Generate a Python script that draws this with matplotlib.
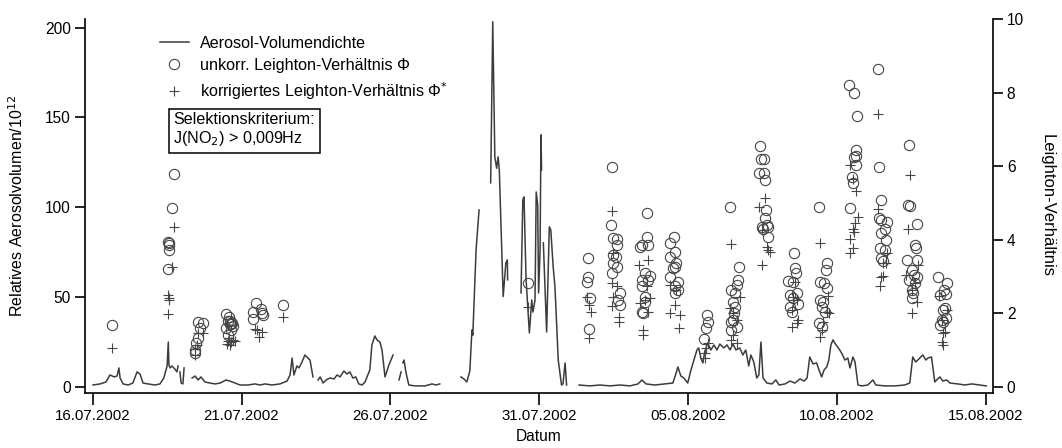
import datetime as dt

import matplotlib
matplotlib.use("Agg")
import matplotlib.dates as mdates
import matplotlib.pyplot as plt
import numpy as np
from matplotlib.lines import Line2D

nan = np.nan
start = dt.datetime(2002, 7, 16)

# Aerosol-Volumendichte (Tage seit 16.07.2002, rel. Volumen / 1e12); nan = Messlücke
aero_days = [
    0.01, 0.25, 0.45, 0.58, 0.72, 0.82, 0.88, 0.92, 1.02, 1.19,
    1.35, 1.49, 1.59, 1.69, 1.86, 2.09, 2.26, 2.39, 2.50, 2.54,
    2.56, 2.60, 2.66, 2.76, 2.83, 2.87, 2.90, 2.93, 2.97, 3.03,
    3.07, 3.20, 3.34, 3.44, 3.54, 3.64, 3.77, 3.94, 4.11, 4.28,
    4.48, 4.61, 4.78, 4.95, 5.22, 5.45, 5.62, 5.79, 6.02, 6.29,
    6.53, 6.63, 6.70, 6.76, 6.86, 6.93, 7.03, 7.13, 7.23, 7.30,
    7.40, 7.48, 7.57, 7.64, 7.74, 7.84, 7.97, 8.11, 8.21, 8.31,
    8.44, 8.54, 8.64, 8.74, 8.84, 8.94, 9.05, 9.15, 9.31, 9.38,
    9.48, 9.55, 9.65, 9.72, 9.82, 9.95, 10.09, 10.20, 10.29, 10.36,
    10.39, 10.42, 10.46, 10.52, 10.62, 10.83, 11.16, 11.40, 11.53, 11.66,
    12.00, 12.37, 12.47, 12.57, 12.67, 12.74, 12.77, 12.88, 12.98, 13.20,
    13.37, 13.44, 13.51, 13.57, 13.62, 13.66, 13.79, 13.88, 13.93, 13.94,
    14.15, 14.39, 14.45, 14.49, 14.56, 14.67, 14.75, 14.79, 14.86, 14.90,
    14.95, 14.98, 15.03, 15.06, 15.08, 15.11, 15.14, 15.25, 15.34, 15.39,
    15.47, 15.53, 15.64, 15.75, 15.80, 15.87, 15.92, 16.10, 16.34, 16.70,
    17.04, 17.38, 17.71, 18.05, 18.32, 18.45, 18.59, 18.89, 19.22, 19.49,
    19.59, 19.66, 19.76, 19.86, 19.99, 20.10, 20.20, 20.30, 20.36, 20.43,
    20.50, 20.56, 20.66, 20.77, 20.87, 20.97, 21.07, 21.20, 21.31, 21.41,
    21.51, 21.61, 21.74, 21.84, 21.94, 22.04, 22.11, 22.21, 22.31, 22.38,
    22.45, 22.52, 22.65, 22.82, 22.95, 23.06, 23.26, 23.43, 23.59, 23.76,
    23.90, 24.00, 24.09, 24.20, 24.32, 24.40, 24.49, 24.57, 24.66, 24.73,
    24.80, 24.87, 24.97, 25.03, 25.16, 25.27, 25.37, 25.44, 25.54, 25.61,
    25.71, 25.84, 26.04, 26.21, 26.31, 26.61, 26.95, 27.28, 27.45, 27.55,
    27.65, 27.72, 27.82, 27.89, 27.99, 28.06, 28.18, 28.29, 28.39, 28.46,
    28.56, 28.69, 28.80, 29.07, 29.30, 29.53, 29.80, 30.02,
]
aero_vol = [
    1.1, 1.7, 2.8, 6.7, 5.6, 6.1, 10.6, 5.0, 1.7, 1.1,
    2.2, 8.4, 7.2, 2.2, 1.7, 1.1, 1.7, 5.0, 11.7, 25.0,
    12.2, 10.6, 11.7, 10.0, 8.4, 11.7, nan, 8.4, 2.2, 1.7,
    10.6, nan, 5.0, 6.1, 3.9, 5.6, 2.8, 2.2, 1.7, 2.2,
    3.9, 3.3, 2.2, 1.1, 1.1, 1.7, 1.1, 1.7, 1.1, 1.7,
    3.3, 6.7, 16.1, 6.7, 11.7, 10.6, 13.9, 17.8, 16.1, 15.0,
    5.6, nan, 3.9, 5.6, 2.2, 3.9, 5.0, 4.5, 6.7, 5.6,
    8.9, 7.2, 8.4, 5.0, 5.6, 1.7, 1.1, 2.8, 9.5, 23.4,
    28.4, 26.2, 25.0, 20.6, 5.6, 12.2, 17.8, nan, 3.9, 8.4,
    nan, 13.4, 15.0, 8.4, 1.1, 0.6, 0.6, 1.7, 1.1, 1.7,
    nan, 5.6, 4.5, 2.8, 8.9, 31.7, 28.9, 76.3, 98.5, nan,
    113.6, 203.2, 128.0, 121.7, 128.0, 120.8, 50.3, 69.0, 70.7, 59.6,
    nan, 52.3, 104.1, 105.8, 59.6, 30.1, 48.4, 41.7, 48.4, 108.5,
    101.3, 52.3, 76.3, 140.3, 120.8, nan, 80.2, 30.6, 89.1, 87.4,
    66.8, 55.7, 15.0, 1.1, 1.7, 13.4, 1.1, nan, 1.1, 0.6,
    1.1, 0.6, 1.1, 0.6, 1.7, 3.9, 1.7, 1.1, 1.7, 2.2,
    7.2, 11.1, 6.1, 5.0, 2.2, 9.5, 15.0, 20.6, 21.7, 16.1,
    13.4, 19.5, 24.5, 20.6, 23.4, 20.6, 23.9, 21.7, 23.4, 20.6,
    23.9, 20.6, 21.7, 17.8, 20.6, 11.7, 17.8, 13.9, 5.0, 6.7,
    25.0, 5.0, 2.2, 1.7, 3.9, 1.1, 1.7, 3.3, 2.2, 4.5,
    3.3, 5.0, 16.7, 12.8, 13.4, 9.5, 5.6, 9.5, 11.1, 15.0,
    23.4, 26.2, 23.4, 22.3, 18.9, 15.0, 16.1, 10.6, 16.7, 13.9,
    1.1, 0.6, 1.1, 3.9, 1.1, 0.6, 0.6, 1.1, 2.2, 16.7,
    13.9, 15.0, 16.7, 17.8, 15.0, 16.1, 16.7, 2.8, 4.5, 5.6,
    3.3, 3.9, 2.2, 1.7, 1.1, 1.7, 1.1, 0.6,
]

# unkorrigiertes Leighton-Verhältnis Phi
phi_days = [
    0.64,
    2.74, 2.65, 2.54, 2.55, 2.56, 2.57, 2.52,
    3.55, 3.70, 3.60, 3.55, 3.46, 3.44, 3.44,
    4.48, 4.58, 4.55, 4.68, 4.61, 4.71, 4.48, 4.65, 4.55, 4.62, 4.66,
    5.48, 5.40, 5.65, 5.68, 5.73, 5.40,
    6.40,
    14.63,
    16.63, 16.65, 16.61, 16.71, 16.68,
    17.43, 17.40, 17.47, 17.60, 17.60, 17.48, 17.58, 17.48, 17.60, 17.43, 17.71, 17.66, 17.71,
    18.63, 18.63, 18.38, 18.44, 18.66, 18.55, 18.72, 18.66, 18.44, 18.47, 18.55, 18.55, 18.44, 18.50,
    19.53, 19.39, 19.56, 19.39, 19.59, 19.56, 19.50, 19.39, 19.67, 19.56, 19.67, 19.56,
    20.64, 20.68, 20.62, 20.53,
    21.41, 21.71, 21.69, 21.63, 21.43, 21.58, 21.52, 21.58, 21.54, 21.50, 21.43, 21.63, 21.46,
    22.42, 22.45, 22.55, 22.39, 22.55, 22.58, 22.62, 22.58, 22.64, 22.47, 22.69, 22.53, 22.69,
    23.57, 23.59, 23.62, 23.37, 23.53, 23.65, 23.43, 23.53, 23.70, 23.43, 23.48,
    24.41, 24.66, 24.63, 24.43, 24.56, 24.66, 24.45, 24.54, 24.49, 24.60, 24.41, 24.49,
    25.41, 25.57, 25.68, 25.66, 25.64, 25.57, 25.64, 25.50, 25.53, 25.44,
    26.39, 26.41, 26.50, 26.42, 26.50, 26.69, 26.61, 26.50, 26.65, 26.45, 26.61, 26.47, 26.54,
    27.43, 27.40, 27.45, 27.70, 27.62, 27.66, 27.68, 27.36, 27.51, 27.59, 27.68, 27.43, 27.62, 27.51, 27.56, 27.51,
    28.40, 28.69, 28.60, 28.46, 28.66, 28.63, 28.57, 28.66, 28.52, 28.57, 28.46,
]
phi_vals = [
    1.68,
    5.79, 4.86, 3.95, 3.86, 3.72, 3.90, 3.20,
    1.77, 1.75, 1.60, 1.33, 1.19, 1.00, 0.93,
    1.98, 1.91, 1.80, 1.75, 1.70, 1.65, 1.60, 1.55, 1.41, 1.78, 1.72,
    2.29, 2.05, 2.11, 2.00, 1.96, 1.84,
    2.23,
    2.82,
    3.50, 3.00, 2.86, 2.43, 1.57,
    5.97, 4.40, 4.04, 4.01, 3.86, 3.59, 3.54, 3.36, 3.27, 3.09, 2.55, 2.36, 2.23,
    4.74, 4.07, 3.81, 3.86, 3.86, 3.09, 3.02, 2.91, 2.91, 2.73, 2.45, 2.32, 2.05, 2.00,
    4.08, 3.90, 3.68, 3.54, 3.36, 3.27, 3.22, 3.00, 2.86, 2.73, 2.64, 2.55,
    1.96, 1.77, 1.60, 1.30,
    4.88, 3.25, 2.91, 2.77, 2.64, 2.55, 2.32, 2.18, 2.00, 1.82, 1.77, 1.64, 1.55,
    6.55, 6.19, 6.19, 5.82, 5.81, 5.63, 4.81, 4.58, 4.40, 4.36, 4.34, 4.29, 4.07,
    3.63, 3.22, 3.09, 2.89, 2.86, 2.55, 2.50, 2.41, 2.26, 2.18, 2.05,
    4.90, 3.36, 3.18, 2.86, 2.82, 2.68, 2.36, 2.32, 2.18, 2.05, 1.73, 1.64,
    8.20, 8.00, 7.35, 6.44, 6.28, 6.26, 6.03, 5.71, 5.54, 4.86,
    8.63, 5.97, 5.08, 4.58, 4.54, 4.49, 4.29, 4.18, 3.99, 3.77, 3.72, 3.50, 3.43,
    6.58, 4.95, 4.92, 4.43, 3.86, 3.77, 3.45, 3.45, 3.18, 3.04, 2.98, 2.91, 2.82, 2.64, 2.55, 2.41,
    2.98, 2.82, 2.64, 2.50, 2.53, 2.14, 2.09, 1.87, 1.82, 1.77, 1.68,
]

# korrigiertes Leighton-Verhältnis Phi*
phi_star_days = [
    0.64,
    2.74, 2.66, 2.54, 2.55, 2.56, 2.52,
    3.55, 3.72, 3.49, 3.44, 3.44,
    4.58, 4.71, 4.65, 4.51, 4.78, 4.61, 4.55,
    5.45, 5.68, 5.59, 5.51,
    6.40,
    14.63,
    16.59, 16.68, 16.73, 16.68,
    17.43, 17.48, 17.44, 17.61, 17.48, 17.44, 17.69, 17.69,
    18.66, 18.36, 18.63, 18.55, 18.72, 18.38, 18.66, 18.50, 18.50,
    19.39, 19.59, 19.56, 19.39, 19.73, 19.70,
    20.68, 20.62, 20.56, 20.56,
    21.43, 21.74, 21.41, 21.51, 21.65, 21.51, 21.46, 21.65,
    22.58, 22.39, 22.47, 22.64, 22.69, 22.75, 22.47,
    23.59, 23.53, 23.65, 23.48, 23.70, 23.65, 23.48,
    24.43, 24.71, 24.66, 24.74, 24.54, 24.49, 24.43,
    25.44, 25.55, 25.66, 25.72, 25.61, 25.55, 25.57, 25.44, 25.53, 25.44,
    26.37, 26.39, 26.69, 26.65, 26.50, 26.56, 26.45, 26.55,
    27.45, 27.40, 27.73, 27.34, 27.62, 27.51, 27.68, 27.54,
    28.44, 28.69, 28.52, 28.63, 28.57, 28.52, 28.57,
]
phi_star_vals = [
    1.06,
    4.35, 3.25, 2.50, 2.41, 2.36, 1.98,
    1.48, 1.48, 1.14, 0.87, 1.02,
    1.33, 1.28, 1.22, 1.18, 1.25, 1.14, 1.25,
    1.57, 1.50, 1.37, 1.55,
    1.91,
    2.18,
    2.45, 2.23, 2.05, 1.32,
    4.79, 3.63, 2.82, 2.73, 2.45, 2.20, 1.91, 1.77,
    3.45, 3.32, 2.73, 2.36, 2.41, 2.27, 2.05, 1.55, 1.41,
    2.77, 2.64, 2.23, 2.00, 1.96, 1.60,
    1.19, 1.05, 0.92, 0.78,
    3.88, 2.45, 2.14, 2.01, 1.82, 1.41, 1.28, 1.20,
    5.13, 4.88, 4.27, 3.81, 3.72, 3.68, 3.32,
    2.86, 2.45, 2.36, 2.09, 1.82, 1.73, 1.64,
    3.92, 2.47, 2.05, 2.00, 1.77, 1.55, 1.37,
    6.03, 5.64, 5.33, 4.63, 4.46, 4.29, 4.22, 4.01, 3.77, 3.63,
    7.41, 4.83, 3.63, 3.36, 3.00, 3.02, 2.74, 3.36,
    5.76, 4.29, 3.32, 3.04, 2.82, 2.64, 2.32, 2.00,
    2.47, 2.09, 1.82, 1.50, 1.46, 1.23, 1.14,
]


def to_num(days):
    return mdates.date2num(start) + np.asarray(days, dtype=float)


plt.rcParams["font.family"] = ["Liberation Sans", "DejaVu Sans"]
plt.rcParams["font.size"] = 11

fig = plt.figure(figsize=(10.62, 4.48), dpi=100)
ax = fig.add_axes([0.080, 0.1228, 0.855, 0.835])
ax2 = ax.twinx()

line_col = "#3c3c3c"
mark_col = "#464646"

ax.plot(to_num(aero_days), aero_vol, color=line_col, lw=1.1, zorder=2)
ax2.plot(to_num(phi_days), phi_vals, ls="none", marker="o", ms=7.4,
         mfc="none", mec=mark_col, mew=0.8)
ax2.plot(to_num(phi_star_days), phi_star_vals, ls="none", marker="+", ms=7.8,
         mec=mark_col, mew=0.8)

ax.set_xlim(to_num([-0.26])[0], to_num([30.245])[0])
ax.set_ylim(-3.34, 204.8)
ax2.set_ylim(-0.163, 10.0)

ax.set_xticks(to_num([0, 5, 10, 15, 20, 25, 30]))
ax.xaxis.set_major_formatter(mdates.DateFormatter("%d.%m.%Y"))
ax.set_yticks([0, 50, 100, 150, 200])
ax2.set_yticks([0, 2, 4, 6, 8, 10])

for a in (ax, ax2):
    a.spines["top"].set_visible(False)
    for s in a.spines.values():
        s.set_linewidth(1.2)
        s.set_color("black")
ax.spines["right"].set_visible(False)
ax2.spines["left"].set_visible(False)
ax2.spines["bottom"].set_visible(False)

ax.tick_params(axis="x", direction="out", length=8.5, width=1.2, pad=3,
               labelsize=10.8)
ax.tick_params(axis="y", direction="out", length=7, width=1.2, pad=3,
               labelsize=11.2)
ax2.tick_params(axis="y", direction="out", length=7, width=1.2, pad=3,
                labelsize=11.2)

ax.set_xlabel("Datum", fontsize=11.2, labelpad=4)
ax.set_ylabel("Relatives Aerosolvolumen/10$^{12}$", fontsize=11.5, labelpad=14)
ax2.set_ylabel("Leighton-Verhältnis", fontsize=12, rotation=270, labelpad=22)

handles = [
    Line2D([], [], color=line_col, lw=1.1),
    Line2D([], [], ls="none", marker="o", ms=7.4, mfc="none", mec=mark_col, mew=0.8),
    Line2D([], [], ls="none", marker="+", ms=7.8, mec=mark_col, mew=0.8),
]
labels = [
    "Aerosol-Volumendichte",
    "unkorr. Leighton-Verhältnis Φ",
    "korrigiertes Leighton-Verhältnis Φ$^{*}$",
]
ax2.legend(handles, labels, loc="upper left", bbox_to_anchor=(0.075, 0.972),
           frameon=False, fontsize=11.6, handlelength=1.85, handletextpad=0.65,
           labelspacing=0.45, borderaxespad=0)

ax2.text(0.0975, 0.752, "Selektionskriterium:\nJ(NO$_2$) > 0,009Hz",
         transform=ax.transAxes, va="top", ha="left", fontsize=11.6,
         linespacing=1.2,
         bbox=dict(boxstyle="square,pad=0.3", facecolor="white",
                   edgecolor="black", linewidth=1.1))

fig.savefig("out.png", dpi=100)
